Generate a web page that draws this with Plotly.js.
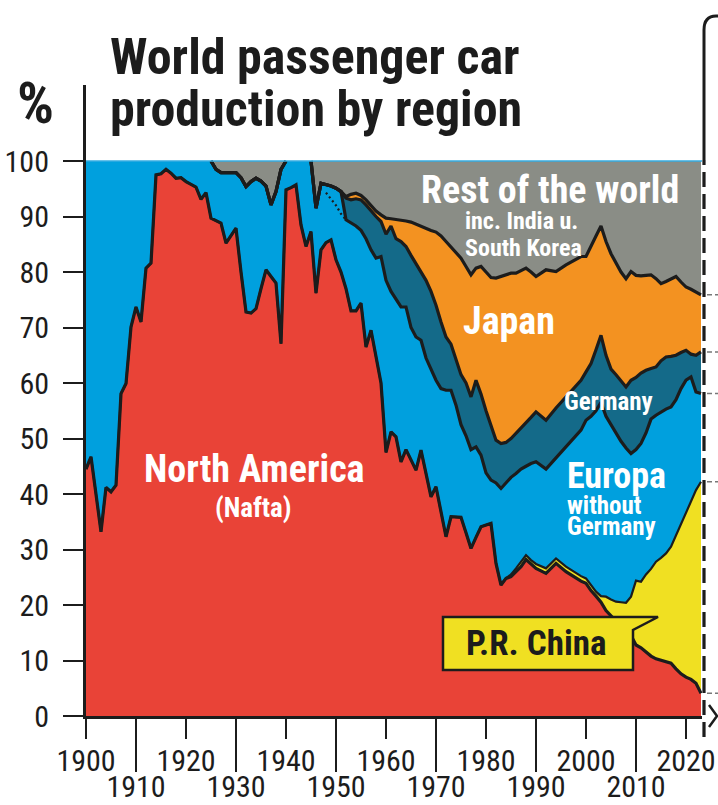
<!DOCTYPE html>
<html><head><meta charset="utf-8">
<script src="https://cdn.plot.ly/plotly-3.0.1.min.js"></script>
<style>html,body{margin:0;padding:0;background:#fff}#chart{width:718px;height:805px}</style>
</head><body><div id="chart"></div>
<script>
// ---------------- DATA (share of world passenger car production, %) ----------------
const years = [
 1900,1901,1903,1904,1905,1906,1907,1908,1909,1910,
 1911,1912,1913,1914,1915,1916,1917,1918,1919,1920,
 1921,1922,1923,1924,1925,1926,1927,1928,1929,1930,
 1931,1932,1933,1934,1935,1936,1937,1938,1939,1940,
 1941,1942,1943,1944,1945,1946,1947,1948,1949,1950,
 1951,1952,1953,1954,1955,1956,1957,1958,1959,1960,
 1961,1962,1963,1964,1965,1966,1967,1968,1969,1970,
 1971,1972,1973,1974,1975,1976,1977,1978,1979,1980,
 1981,1982,1983,1984,1985,1986,1987,1988,1989,1990,
 1992,1994,1996,1998,
 1999,2000,2001,2002,2003,2004,2005,2006,2007,2008,
 2009,2010,2011,2012,2013,2014,2015,2016,2017,2018,
 2019,2020,2021,2022,2023];

const northAmerica = [
 44.5,46.7,33.2,41.2,40.4,41.6,58.1,59.9,70.1,73.7,
 71.0,80.7,81.6,97.5,97.7,98.5,97.8,96.9,97.0,96.3,
 95.8,95.3,93.1,94.3,89.7,89.3,88.8,85.2,86.5,87.9,
 80.0,72.8,72.6,73.4,77.0,80.4,79.2,78.0,67.1,94.8,
 95.2,95.7,88.5,84.6,87.3,76.2,84.0,85.3,85.8,82.2,
 80.0,77.0,73.0,73.0,74.4,66.5,69.5,65.0,60.0,47.5,
 51.2,50.3,45.8,48.0,46.2,44.3,47.9,43.5,39.5,41.3,
 36.8,32.3,35.9,35.9,35.8,33.0,30.2,32.2,34.1,34.4,
 34.7,27.5,23.6,24.8,25.1,26.0,26.9,28.2,27.3,26.6,
 25.7,27.5,26.0,24.8,
 24.3,23.9,22.6,21.6,20.5,19.0,18.0,17.0,16.0,15.2,
 14.5,12.8,12.3,11.5,10.8,10.3,10.0,9.8,9.5,8.5,
 7.6,7.0,6.6,5.9,4.1];

const china = [
 0,0,0,0,0,0,0,0,0,0,
 0,0,0,0,0,0,0,0,0,0,
 0,0,0,0,0,0,0,0,0,0,
 0,0,0,0,0,0,0,0,0,0,
 0,0,0,0,0,0,0,0,0,0,
 0,0,0,0,0,0,0,0,0,0,
 0,0,0,0,0,0,0,0,0,0,
 0,0,0,0,0,0,0,0,0,0,
 0,0,0,0,0.4,0.6,0.8,0.8,0.8,0.8,
 0.9,0.9,0.9,0.9,
 0.9,0.9,0.9,0.8,1.1,2.5,3.0,3.6,4.5,5.2,
 7.0,11.6,11.9,14.0,15.7,17.5,18.5,19.5,21.0,24.0,
 27.1,29.5,31.9,34.8,38.1];

const europeWithoutGermany = [
 55.5,53.3,66.8,58.8,59.6,58.4,41.9,40.1,29.9,26.3,
 29.0,19.3,18.4,2.5,2.3,1.5,2.2,3.1,3.0,3.7,
 4.2,4.7,6.9,5.7,10.3,9.2,9.1,12.7,11.4,10.0,
 17.0,22.6,23.7,23.5,19.4,15.1,12.9,16.5,31.4,5.2,
 4.8,4.3,11.5,15.4,12.7,15.3,12.0,10.5,9.7,12.9,
 14.5,12.4,15.8,15.3,13.1,19.5,14.5,17.5,22.8,31.0,
 25.3,24.7,27.9,25.7,23.8,24.0,19.8,21.0,23.0,19.2,
 22.2,26.4,22.8,20.1,16.7,17.5,17.8,16.3,12.9,9.4,
 7.8,14.5,17.4,17.2,17.5,17.1,16.8,16.0,17.4,18.4,
 17.9,18.1,21.6,24.8,
 26.3,28.5,30.5,32.6,34.9,32.5,31.5,30.4,29.0,27.9,
 25.8,23.6,24.9,25.5,27.0,26.4,26.3,26.0,25.2,24.5,
 24.3,24.0,22.6,17.7,15.9];

const germany = [
 0,0,0,0,0,0,0,0,0,0,
 0,0,0,0,0,0,0,0,0,0,
 0,0,0,0,0,0,0,0,0,0,
 0,0,0,0,0,0,0,0,0,0,
 0,0,0,0,0,0,0,0,0,0,
 0,3.9,4.2,4.9,5.5,6.1,7.0,7.5,6.3,8.3,
 11.8,11.0,11.8,10.9,13.0,13.2,12.3,14.0,14.0,13.5,
 12.0,9.6,8.3,8.0,9.0,9.5,9.5,12.0,11.0,11.2,
 10.0,7.7,8.1,7.3,7.0,7.2,7.3,7.7,8.3,9.0,
 8.8,9.0,9.0,9.0,
 9.0,8.7,9.5,11.0,12.1,11.0,10.0,10.5,11.0,11.0,
 13.2,13.0,12.7,11.3,9.1,8.7,9.2,9.4,9.1,8.0,
 6.5,5.4,4.1,6.6,7.5];

const japan = [
 0,0,0,0,0,0,0,0,0,0,
 0,0,0,0,0,0,0,0,0,0,
 0,0,0,0,0,0,0,0,0,0,
 0,0,0,0,0,0,0,0,0,0,
 0,0,0,0,0,0,0,0,0,0,
 0,0.3,1.0,1.0,0.8,0.9,1.0,1.0,1.2,2.9,
 1.3,3.5,3.9,4.6,6.0,7.1,8.2,9.4,11.0,13.2,
 15.5,17.2,17.5,19.5,21.0,21.0,22.0,20.2,23.0,25.0,
 26.5,29.2,30.1,30.2,29.8,28.9,28.4,28.0,26.2,24.4,
 27.1,24.6,23.8,22.8,
 22.3,20.8,21.0,20.5,19.7,20.5,20.8,20.0,19.5,19.5,
 19.6,18.4,17.5,17.1,16.9,15.9,13.9,13.6,14.0,14.2,
 12.7,11.4,11.7,11.4,10.3];

const restOfWorld = [
 0,0,0,0,0,0,0,0,0,0,
 0,0,0,0,0,0,0,0,0,0,
 0,0,0,0,0,1.5,2.1,2.1,2.1,2.1,
 3.0,4.6,3.7,3.1,3.6,4.5,7.9,5.5,1.5,0,
 0,0,0,0,0,8.5,4.0,4.2,4.5,4.9,
 5.5,6.4,6.0,5.8,6.2,7.0,8.0,9.0,9.7,10.3,
 10.4,10.5,10.6,10.8,11.0,11.4,11.8,12.1,12.5,12.8,
 13.5,14.5,15.5,16.5,17.5,19.0,20.5,19.3,19.0,20.0,
 21.0,21.1,20.8,20.5,20.2,20.2,19.8,19.3,20.0,20.8,
 19.6,19.9,18.7,17.7,
 17.2,17.2,15.5,13.5,11.7,14.5,16.7,18.5,20.0,21.2,
 19.9,20.6,20.7,20.6,20.5,21.2,22.1,21.7,21.2,20.8,
 21.8,22.7,23.1,23.6,24.1];

// Germany's share inside "Europe" before it is shown separately (dotted boundary)
const germanyEarlyYears = [1948,1949,1950,1951,1952];
const germanyEarlyShare = [1.5,2.3,3.1,4.0,3.9];

const evenDecades = [1900,1920,1940,1960,1980,2000,2020];
const oddDecades  = [1910,1930,1950,1970,1990,2010];
const yTicks = [0,10,20,30,40,50,60,70,80,90,100];

// ---------------- STYLE ----------------
const series = [
 {name:'North America (Nafta)', v:northAmerica, color:'#E94337'},
 {name:'P.R. China', v:china, color:'#F0E022'},
 {name:'Europa without Germany', v:europeWithoutGermany, color:'#00A0DE'},
 {name:'Germany', v:germany, color:'#146A89'},
 {name:'Japan', v:japan, color:'#F39221'},
 {name:'Rest of the world', v:restOfWorld, color:'#8A8D86'}
];
const FN = "'Roboto Condensed','Open Sans Condensed','DejaVu Sans Condensed',sans-serif";
const INK = '#1c1c1c';

// cumulative stacking
const cum = [];
let run = years.map(()=>0);
series.forEach(s=>{ run = run.map((r,i)=>Math.round((r+s.v[i])*100)/100); cum.push(run.slice()); });

const traces = [];
series.forEach((s,k)=>{
  traces.push({x:years, y:cum[k], mode:'lines', line:{width:0,color:s.color},
    fill: k===0?'tozeroy':'tonexty', fillcolor:s.color, name:s.name, hoverinfo:'skip', showlegend:false});
});
function maskTop(arr){
  return arr.map((v,i)=>{
    if(v<99.95) return v;
    const p = i>0 && arr[i-1]<99.95, n = i<arr.length-1 && arr[i+1]<99.95;
    return (p||n)?v:null;
  });
}
const outlineWidth = [3.2,2.2,3.2,3.2,3.2];
for(let k=0;k<5;k++){
  traces.push({x:years, y:maskTop(cum[k]), mode:'lines', connectgaps:false,
    line:{color:INK,width:outlineWidth[k]}, hoverinfo:'skip', showlegend:false});
}
// dotted early Germany boundary
const dotY = germanyEarlyYears.map((yr,j)=>{ const i = years.indexOf(yr); return cum[3][i]-germanyEarlyShare[j]; });
traces.push({x:germanyEarlyYears, y:dotY, mode:'lines', line:{color:INK,width:2.2,dash:'2px,3px'}, hoverinfo:'skip', showlegend:false});
// dummy trace for second x axis (odd decade ticks)
traces.push({x:[1900], y:[null], xaxis:'x2', yaxis:'y', mode:'lines', hoverinfo:'skip', showlegend:false});

// pixel helpers for decorations (plot area: x 86..702, y 85..716)
const PL=86, PR=702, PT=85, PB=716;
const px = v => (v-PL)/(PR-PL);
const py = v => (PB-v)/(PB-PT);

const last = years.length-1;
const shapes = [
  {type:'line', xref:'x', yref:'y', x0:1900, x1:2023.2, y0:100, y1:100, line:{color:'#35ade2', width:1.5}},
  {type:'line', xref:'paper', yref:'paper', x0:px(704), x1:px(704), y0:py(737), y1:py(160), line:{color:INK, width:3.2, dash:'15px,7px'}},
  {type:'path', xref:'paper', yref:'paper', path:`M ${px(704)},${py(160)} L ${px(704)},${py(30)} Q ${px(704)},${py(16)} ${px(716)},${py(16)} L ${px(722)},${py(16)}`, line:{color:INK,width:3}},
  {type:'path', xref:'paper', yref:'paper', path:`M ${px(709)},${py(705)} L ${px(717)},${py(716)} L ${px(709)},${py(727)}`, line:{color:INK,width:2.5}},
  {type:'path', xref:'paper', yref:'paper', path:`M ${px(443)},${py(617)} L ${px(658)},${py(617)} L ${px(633)},${py(630)} L ${px(633)},${py(670)} L ${px(443)},${py(670)} Z`,
   fillcolor:'#F0E022', line:{color:INK,width:2.5}}
];
[4,3,2,1,0].forEach(k=>{
  shapes.push({type:'line', xref:'paper', yref:'y', x0:px(707), x1:px(720), y0:cum[k][last], y1:cum[k][last], line:{color:'#777', width:1.5, dash:'5px,3px'}});
});

function ann(text,x,y,size,color,anchor){
  return {text:text, xref:'paper', yref:'paper', x:px(x), y:py(y), xanchor:anchor||'center', yanchor:'middle',
    showarrow:false, font:{family:FN, size:size, color:color, weight:700}};
}
const W='#ffffff';
const annotations = [
  ann('World passenger car',108,57,50,INK,'left'),
  ann('production by region',108,109,50,INK,'left'),
  ann('%',35,103,58,INK,'center'),
  ann('Rest of the world',550,190,38,W),
  ann('inc. India u.',463,221,24,W,'left'),
  ann('South Korea',463,248,24,W,'left'),
  ann('Japan',509,321,38,W),
  ann('Germany',608,401,25,W),
  ann('North America',254,469,38,W),
  ann('(Nafta)',253,508,27,W),
  ann('Europa',616,476,36,W),
  ann('without',565,505,25,W,'left'),
  ann('Germany',565,526,25,W,'left'),
  ann('P.R. China',536,643,35,INK)
];

const tickFont = {family:FN, size:30, color:INK, weight:400};
const layout = {
  width:718, height:805, margin:{l:PL, r:718-PR, t:PT, b:805-PB, pad:0},
  paper_bgcolor:'#ffffff', plot_bgcolor:'#ffffff', showlegend:false,
  xaxis:{range:[1900,2023.2], showline:true, linecolor:INK, linewidth:3, ticks:'outside', ticklen:20, tickwidth:2, tickcolor:INK,
    tickmode:'array', tickvals:evenDecades, ticktext:evenDecades.map(String), tickfont:tickFont, showgrid:false, zeroline:false, ticklabelstandoff:-4},
  xaxis2:{overlaying:'x', anchor:'y', side:'bottom', range:[1900,2023.2], showline:false, ticks:'outside', ticklen:55, tickwidth:2, tickcolor:INK,
    tickmode:'array', tickvals:oddDecades, ticktext:oddDecades.map(String), tickfont:tickFont, showgrid:false, zeroline:false, ticklabelstandoff:-11},
  yaxis:{range:[0,113.7], showline:true, linecolor:INK, linewidth:3, ticks:'outside', ticklen:20, tickwidth:2, tickcolor:INK,
    tickmode:'array', tickvals:yTicks, ticktext:yTicks.map(String), tickfont:tickFont, showgrid:false, zeroline:false, ticklabelstandoff:8},
  shapes:shapes, annotations:annotations
};
Plotly.newPlot('chart', traces, layout, {staticPlot:true, displayModeBar:false});
</script></body></html>
